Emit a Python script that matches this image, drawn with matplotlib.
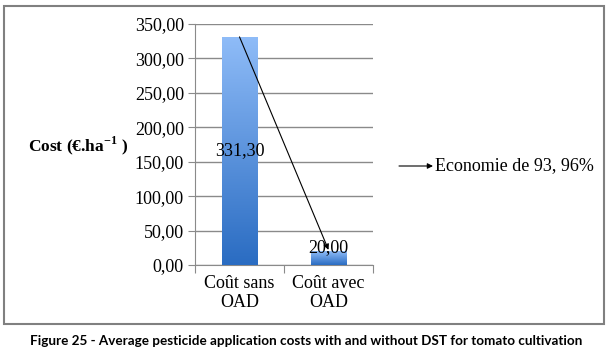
import numpy as np
import matplotlib.pyplot as plt
from matplotlib.patches import Rectangle
from matplotlib.colors import LinearSegmentedColormap

# Data
categories = ['Coût sans\nOAD', 'Coût avec\nOAD']
costs = [331.30, 20.00]
value_labels = ['331,30', '20,00']
yticks = [0, 50, 100, 150, 200, 250, 300, 350]
ytick_labels = ['0,00', '50,00', '100,00', '150,00', '200,00', '250,00', '300,00', '350,00']
saving_text = 'Economie de 93, 96%'
ylabel = r'Cost (€.ha$^{\mathbf{-1}}$ )'
caption = 'Figure 25 - Average pesticide application costs with and without DST for tomato cultivation'

plt.rcParams['font.family'] = 'Liberation Serif'
plt.rcParams['mathtext.fontset'] = 'custom'
plt.rcParams['mathtext.rm'] = 'Liberation Serif'
plt.rcParams['mathtext.bf'] = 'Liberation Serif:bold'

W, H = 613, 355
fig = plt.figure(figsize=(W / 100, H / 100), dpi=100)
ax = fig.add_axes([195 / W, 1 - 265 / H, (373 - 195) / W, (265 - 24) / H])

# Bars with vertical gradient
x = np.arange(len(categories))
bars = ax.bar(x, costs, width=0.4, color='none', zorder=3)
grad = np.linspace(0, 1, 256).reshape(-1, 1)
cmap = LinearSegmentedColormap.from_list('blu', ['#2a6cc2', '#8fbcf8'])
for b in bars:
    bx, by = b.get_x(), b.get_y()
    bw, bh = b.get_width(), b.get_height()
    im = ax.imshow(grad, cmap=cmap, aspect='auto', origin='lower',
                   extent=[bx, bx + bw, by, by + bh], zorder=3)
    im.set_clip_path(b)

ax.set_xlim(-0.5, 1.5)
ax.set_ylim(0, 350)

# Value labels
for i, (v, lab) in enumerate(zip(costs, value_labels)):
    ypos = v / 2 if v > 60 else v + 5
    ax.text(i, ypos, lab, ha='center', va='center', fontsize=13, zorder=5)

# Arrow between bars
ax.annotate('', xy=(1, costs[1] + 2), xytext=(0, costs[0]),
            arrowprops=dict(arrowstyle='-|>', color='black', lw=0.8,
                            mutation_scale=8, shrinkA=0, shrinkB=0), zorder=6)

# Axes styling
ax.set_yticks(yticks)
ax.set_yticklabels(ytick_labels, fontsize=13)
ax.yaxis.grid(True, color='#8a8a8a', lw=1)
ax.set_axisbelow(True)
ax.set_xticks([-0.5, 0.5, 1.5])
ax.set_xticklabels([])
ax.set_xticks(x, minor=True)
ax.set_xticklabels(categories, minor=True, fontsize=13, linespacing=1.15)
ax.tick_params(axis='x', which='minor', length=0, pad=7)
ax.tick_params(axis='x', which='major', length=6, color='#8a8a8a', direction='out')
ax.tick_params(axis='y', length=5, color='#8a8a8a', pad=3)
for s in ['top', 'right']:
    ax.spines[s].set_visible(False)
for s in ['left', 'bottom']:
    ax.spines[s].set_color('#8a8a8a')

# Y label
fig.text(28 / W, 1 - 146 / H, ylabel, ha='left', va='center', fontsize=12.5, fontweight='bold')

# Outer frame
fig.patches.append(Rectangle((4 / W, 1 - 324 / H), 600 / W, 318 / H, transform=fig.transFigure,
                             fill=False, edgecolor='#808080', lw=1.5))

# Saving annotation
ax.annotate('', xy=(433 / W, 1 - 166 / H), xytext=(399 / W, 1 - 166 / H),
            xycoords='figure fraction', textcoords='figure fraction',
            arrowprops=dict(arrowstyle='-|>', color='black', lw=0.8,
                            mutation_scale=8, shrinkA=0, shrinkB=0))
fig.text(435 / W, 1 - 166 / H, saving_text, ha='left', va='center', fontsize=13)

# Caption
fig.text(0.5, 1 - 341 / H, caption, ha='center', va='center', fontsize=9.7,
         fontweight='bold', family='Lato')

fig.savefig('out.png', dpi=100)
